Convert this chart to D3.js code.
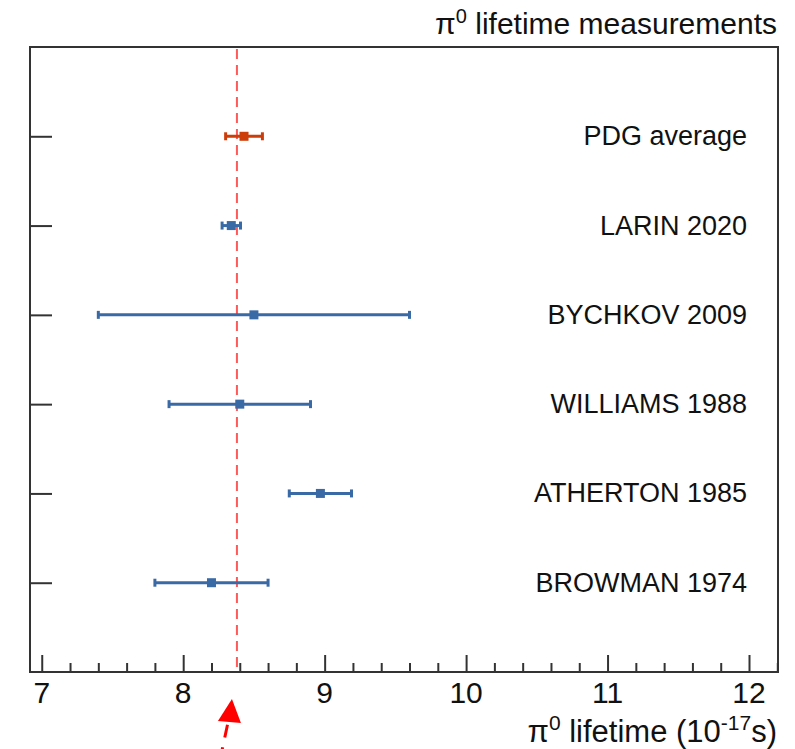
<!DOCTYPE html>
<html>

<head>
    <meta charset="utf-8">
    <script src="https://cdn.jsdelivr.net/npm/d3@7"></script>
    <style>
        body { margin: 0; background: white; }
        text {
            fill: #111;
            font-family: "Liberation Sans", Arial, sans-serif;
        }
    </style>
</head>

<body>

    <script>

        // measurements, from top to bottom
        var names = ["PDG average", "LARIN 2020", "BYCHKOV 2009", "WILLIAMS 1988", "ATHERTON 1985", "BROWMAN 1974"];
        var values = [8.43, 8.34, 8.5, 8.4, 8.97, 8.2];
        var errors = [0.13, 0.065, 1.1, 0.5, 0.22, 0.4];
        var rows = [6, 5, 4, 3, 2, 1];
        var xTicks = [7, 8, 9, 10, 11, 12];
        var refValue = 8.38; // dashed red reference line

        var width = 795, height = 749;
        var fLeft = 30, fRight = 778, fTop = 47, fBottom = 672;

        var svg = d3.select('body')
            .append('svg')
            .attr('width', width)
            .attr('height', height);

        var x = d3.scaleLinear().domain([6.917, 12.205]).range([fLeft, fRight]);
        var y = d3.scaleLinear().domain([0, 7]).range([fBottom, fTop]);

        // frame
        svg.append('rect')
            .attr('x', fLeft).attr('y', fTop)
            .attr('width', fRight - fLeft).attr('height', fBottom - fTop)
            .attr('fill', 'none').attr('stroke', '#333').attr('stroke-width', 2);

        // x axis: major ticks, minor ticks every 0.2
        var gx = svg.append('g').attr('transform', 'translate(0,' + fBottom + ')')
            .call(d3.axisTop(x).tickValues(xTicks).tickSize(17).tickFormat(''));
        gx.select('.domain').remove();
        gx.selectAll('line').attr('stroke', '#333').attr('stroke-width', 2);

        var minor = d3.range(7, 12.2001, 0.2).filter(function (v) { return Math.abs(v - Math.round(v)) > 0.01; });
        var gm = svg.append('g').attr('transform', 'translate(0,' + fBottom + ')')
            .call(d3.axisTop(x).tickValues(minor).tickSize(9).tickFormat(''));
        gm.select('.domain').remove();
        gm.selectAll('line').attr('stroke', '#333').attr('stroke-width', 2);

        svg.selectAll('.xlab')
            .data(xTicks)
            .enter().append('text')
            .attr('class', 'xlab')
            .attr('x', function (d) { return x(d); })
            .attr('y', 703)
            .attr('text-anchor', 'middle')
            .style('font-size', '30px')
            .text(function (d) { return d; });

        // y axis ticks, no labels
        var gy = svg.append('g').attr('transform', 'translate(' + fLeft + ',0)')
            .call(d3.axisRight(y).tickValues(rows).tickSize(22).tickFormat(''));
        gy.select('.domain').remove();
        gy.selectAll('line').attr('stroke', '#333').attr('stroke-width', 2);

        // reference line
        svg.append('line')
            .attr('x1', x(refValue)).attr('x2', x(refValue))
            .attr('y1', fTop + 2).attr('y2', fBottom)
            .attr('stroke', '#ff5a5a')
            .attr('stroke-width', 2)
            .attr('stroke-dasharray', '10,6');

        // error bars
        var pts = svg.selectAll('.pt')
            .data(d3.range(names.length))
            .enter().append('g')
            .attr('class', 'pt')
            .attr('fill', function (i) { return i === 0 ? '#cc3d0a' : '#3a6aa6'; })
            .attr('stroke', function (i) { return i === 0 ? '#cc3d0a' : '#3a6aa6'; });

        pts.append('line')
            .attr('x1', function (i) { return x(values[i] - errors[i]); })
            .attr('x2', function (i) { return x(values[i] + errors[i]); })
            .attr('y1', function (i) { return y(rows[i]); })
            .attr('y2', function (i) { return y(rows[i]); })
            .attr('stroke-width', 3);

        [-1, 1].forEach(function (s) {
            pts.append('line')
                .attr('x1', function (i) { return x(values[i] + s * errors[i]); })
                .attr('x2', function (i) { return x(values[i] + s * errors[i]); })
                .attr('y1', function (i) { return y(rows[i]) - 4; })
                .attr('y2', function (i) { return y(rows[i]) + 4; })
                .attr('stroke-width', 3);
        });

        pts.append('rect')
            .attr('x', function (i) { return x(values[i]) - 4.5; })
            .attr('y', function (i) { return y(rows[i]) - 4.5; })
            .attr('width', 9).attr('height', 9)
            .attr('stroke', 'none');

        // labels
        svg.selectAll('.name')
            .data(d3.range(names.length))
            .enter().append('text')
            .attr('class', 'name')
            .attr('x', 747)
            .attr('y', function (i) { return y(rows[i]) + 9; })
            .attr('text-anchor', 'end')
            .style('font-size', '27px')
            .text(function (i) { return names[i]; });

        // title
        var title = svg.append('text')
            .attr('x', 777).attr('y', 34)
            .attr('text-anchor', 'end')
            .style('font-size', '30px');
        title.append('tspan').text('\u03c0');
        title.append('tspan').attr('dy', -11).style('font-size', '20px').text('0');
        title.append('tspan').attr('dy', 11).text(' lifetime measurements');

        // x axis title
        var xt = svg.append('text')
            .attr('x', 777).attr('y', 742)
            .attr('text-anchor', 'end')
            .style('font-size', '31px');
        xt.append('tspan').text('\u03c0');
        xt.append('tspan').attr('dy', -12).style('font-size', '21px').text('0');
        xt.append('tspan').attr('dy', 12).text(' lifetime (10');
        xt.append('tspan').attr('dy', -12).style('font-size', '21px').text('-17');
        xt.append('tspan').attr('dy', 12).text('s)');

        // arrow pointing at the reference value
        var tipX = x(refValue) - 5, tipY = 699;
        svg.append('line')
            .attr('x1', tipX - 12).attr('y1', 760)
            .attr('x2', tipX - 3).attr('y2', 718)
            .attr('stroke', '#ff0000').attr('stroke-width', 3)
            .attr('stroke-dasharray', '13,10');
        svg.append('path')
            .attr('d', 'M' + tipX + ',' + tipY + 'L' + (tipX - 14) + ',' + (tipY + 22) + 'L' + (tipX + 9) + ',' + (tipY + 24) + 'Z')
            .attr('fill', '#ff0000');

    </script>

</body>

</html>
